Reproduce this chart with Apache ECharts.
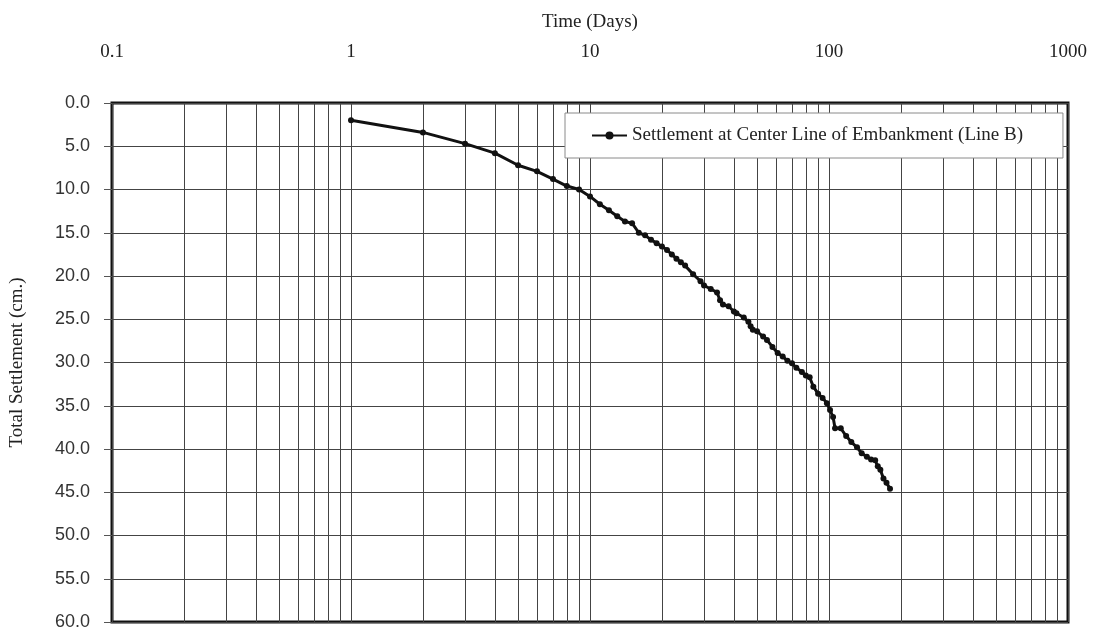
<!DOCTYPE html>
<html>
<head>
<meta charset="utf-8">
<title>Total Settlement vs Time</title>
<script src="https://cdn.jsdelivr.net/npm/echarts@6/dist/echarts.min.js"></script>
<style>
  html, body { margin: 0; padding: 0; background: #fff; }
  #chart { width: 1097px; height: 634px; }
</style>
</head>
<body>
<div id="chart"></div>
<script>
// Elapsed time since loading (days)
const days = [1, 2, 3, 4, 5, 6, 7, 8, 9, 10, 11, 12, 13, 14, 15, 16, 17, 18, 19, 20,
  21, 22, 23, 24, 25, 27, 29, 30, 32, 34, 35, 36, 38, 40, 41, 44, 46, 47, 48, 50,
  53, 55, 58, 61, 64, 67, 70, 73, 77, 80, 83, 86, 90, 94, 98, 101, 104, 106, 112, 118,
  124, 131, 137, 144, 150, 156, 160, 164, 169, 174, 180];

// Total settlement at the centre line of the embankment (cm)
const settlement = [2.0, 3.4, 4.7, 5.8, 7.2, 7.9, 8.8, 9.6, 10.0, 10.8, 11.7, 12.4, 13.1, 13.7, 13.9, 15.0, 15.3, 15.8, 16.2, 16.6,
  17.0, 17.5, 18.0, 18.4, 18.8, 19.8, 20.6, 21.1, 21.5, 21.9, 22.8, 23.3, 23.5, 24.1, 24.3, 24.8, 25.3, 25.8, 26.2, 26.4,
  27.0, 27.4, 28.2, 28.9, 29.3, 29.8, 30.1, 30.6, 31.1, 31.5, 31.7, 32.8, 33.6, 34.1, 34.7, 35.5, 36.3, 37.6, 37.6, 38.5,
  39.2, 39.8, 40.5, 40.9, 41.2, 41.3, 42.0, 42.4, 43.4, 43.9, 44.6];

const seriesName = 'Settlement at Center Line of Embankment (Line B)';
const xTickLabels = ['0.1', '1', '10', '100', '1000'];
const yTickLabels = ['0.0', '5.0', '10.0', '15.0', '20.0', '25.0', '30.0', '35.0', '40.0', '45.0', '50.0', '55.0', '60.0'];

// Intermediate log-cycle grid lines (2..9 within each decade)
const minorGridX = [0.2, 0.3, 0.4, 0.5, 0.6, 0.7, 0.8, 0.9,
  2, 3, 4, 5, 6, 7, 8, 9,
  20, 30, 40, 50, 60, 70, 80, 90,
  200, 300, 400, 500, 600, 700, 800, 900];

const points = days.map((d, i) => [d, settlement[i]]);
const gridColor = '#444';
const serif = '"Liberation Serif", "DejaVu Serif", serif';

const chart = echarts.init(document.getElementById('chart'), null, { renderer: 'canvas' });
chart.setOption({
  backgroundColor: '#ffffff',
  animation: false,
  grid: {
    left: 112, right: 29, top: 103, bottom: 12,
    outerBoundsMode: 'none',
    containLabel: false,
    show: true, borderColor: '#111', borderWidth: 3, backgroundColor: '#fff'
  },
  legend: {
    left: 565, top: 113, z: 20,
    padding: [13, 40, 13, 26],
    backgroundColor: '#fff',
    borderColor: '#8a8a8a', borderWidth: 1,
    itemWidth: 35, itemHeight: 10, itemGap: 6,
    textStyle: { fontFamily: serif, fontSize: 19, color: '#222' },
    data: [seriesName]
  },
  xAxis: {
    type: 'log', logBase: 10, min: 0.1, max: 1000,
    position: 'top',
    name: 'Time (Days)', nameLocation: 'middle', nameGap: 71,
    nameTextStyle: { fontFamily: serif, fontSize: 19, color: '#222' },
    axisLine: { show: false },
    axisTick: { show: false },
    axisLabel: {
      margin: 41, fontFamily: serif, fontSize: 19, color: '#222',
      formatter: (v, i) => xTickLabels[i]
    },
    splitLine: { show: true, lineStyle: { color: gridColor, width: 1 } }
  },
  yAxis: {
    type: 'value', inverse: true, min: 0, max: 60, interval: 5,
    name: 'Total Settlement (cm.)', nameLocation: 'middle', nameGap: 85, nameRotate: 90,
    nameTextStyle: { fontFamily: serif, fontSize: 19, color: '#222' },
    axisLine: { show: false },
    axisTick: { show: true, length: 8, lineStyle: { color: '#555', width: 1 } },
    axisLabel: {
      margin: 22, fontFamily: '"Liberation Sans", Arial, sans-serif', fontSize: 18, color: '#333',
      formatter: (v, i) => yTickLabels[i]
    },
    splitLine: { show: true, lineStyle: { color: gridColor, width: 1 } }
  },
  series: [
    {
      name: 'minor-grid',
      type: 'line',
      data: [],
      silent: true,
      z: 1,
      markLine: {
        silent: true,
        symbol: ['none', 'none'],
        label: { show: false },
        lineStyle: { color: gridColor, width: 1, type: 'solid' },
        data: minorGridX.map(v => ({ xAxis: v }))
      }
    },
    {
      name: seriesName,
      type: 'line',
      data: points,
      z: 5,
      symbol: 'circle',
      symbolSize: 6,
      lineStyle: { color: '#111', width: 3 },
      itemStyle: { color: '#111' }
    }
  ]
});
</script>
</body>
</html>
